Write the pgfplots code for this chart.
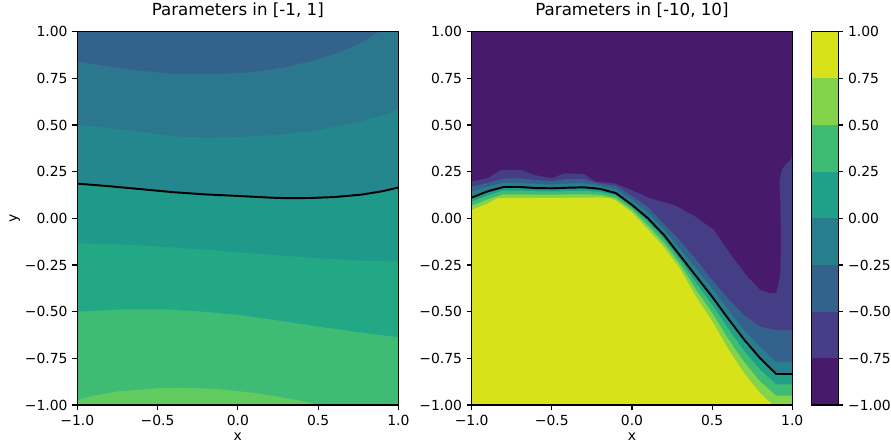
\documentclass[border=0pt]{standalone}
\usepackage{fontspec}
\setmainfont{DejaVu Sans}
\usepackage{pgfplots}
\pgfplotsset{compat=1.18}
% right panel / colorbar levels (viridis, 8 levels)
\definecolor{c1}{HTML}{481A6C}
\definecolor{c2}{HTML}{453D85}
\definecolor{c3}{HTML}{33638D}
\definecolor{c4}{HTML}{277F8E}
\definecolor{c5}{HTML}{1FA088}
\definecolor{c6}{HTML}{3FBC73}
\definecolor{c7}{HTML}{84D44B}
\definecolor{c8}{HTML}{D8E219}
% left panel levels
\definecolor{lA}{HTML}{33628D}
\definecolor{lB}{HTML}{2A778E}
\definecolor{lC}{HTML}{24878E}
\definecolor{lD}{HTML}{1F998A}
\definecolor{lE}{HTML}{22A884}
\definecolor{lF}{HTML}{3FBC73}
\definecolor{lG}{HTML}{62CB5F}
\pgfplotsset{
  panel/.style={
    scale only axis, anchor=south west,
    xmin=-1,xmax=1,ymin=-1,ymax=1,
    axis on top, clip=true,
    tick align=outside, major tick length=3.5pt,
    xtick pos=bottom, ytick pos=left,
    xtick={-1,-0.5,0,0.5,1},
    xticklabels={−1.0,−0.5,0.0,0.5,1.0},
    ytick={-1,-0.75,-0.5,-0.25,0,0.25,0.5,0.75,1},
    yticklabels={−1.00,−0.75,−0.50,−0.25,0.00,0.25,0.50,0.75,1.00},
    tick style={black, line width=0.8pt},
    axis line style={line width=0.8pt},
    every tick label/.append style={font=\fontsize{10}{12}\selectfont},
    title style={font=\fontsize{12}{14}\selectfont, at={(0.5,1)}, anchor=base, yshift=6pt},
    every axis x label/.style={at={(axis description cs:0.5,0)}, anchor=base, yshift=-25.9pt, font=\fontsize{10}{12}\selectfont},
    every axis y label/.style={at={(axis description cs:-0.195,0.5)}, rotate=90, anchor=center, font=\fontsize{10}{12}\selectfont},
  },
  fl/.style={fill=#1, draw=none, mark=none, forget plot},
}
\begin{document}
\begin{tikzpicture}[x=1pt,y=1pt]
\path[use as bounding box] (0,0) rectangle (641.52,319.68);
% ---------------- left panel ----------------
\begin{axis}[panel, at={(55.66pt,28.08pt)}, width=231.12pt, height=268.8pt,
  title={Parameters in [-1, 1]}, xlabel={x}, ylabel={y}]
\addplot[fl=lA] coordinates {(-1,-1) (1,-1) (1,1) (-1,1)};
\addplot[fl=lB] coordinates {(-1,0.841) (-0.8,0.812) (-0.6,0.79) (-0.4,0.773) (-0.2,0.772) (0,0.778) (0.14,0.788) (0.3,0.81) (0.45,0.841) (0.6,0.88) (0.72,0.922) (0.8,0.955) (0.88,1.0) (1,1) (1,-1) (-1,-1)};
\addplot[fl=lC] coordinates {(-1,0.502) (-0.7,0.475) (-0.4,0.44) (-0.2,0.432) (0,0.435) (0.2,0.445) (0.45,0.466) (0.6,0.49) (0.77,0.52) (0.9,0.55) (1,0.582) (1,-1) (-1,-1)};
\addplot[fl=lD] coordinates {(-1,0.186) (-0.8,0.172) (-0.6,0.156) (-0.5,0.148) (-0.4,0.14) (-0.2,0.128) (0,0.12) (0.2,0.111) (0.3,0.108) (0.45,0.109) (0.6,0.114) (0.77,0.127) (0.9,0.145) (1,0.165) (1,-1) (-1,-1)};
\addplot[fl=lE] coordinates {(-1,-0.133) (-0.7,-0.14) (-0.48,-0.152) (-0.25,-0.165) (0,-0.182) (0.25,-0.198) (0.5,-0.214) (0.75,-0.226) (1,-0.232) (1,-1) (-1,-1)};
\addplot[fl=lF] coordinates {(-1,-0.50) (-0.7,-0.488) (-0.48,-0.487) (-0.25,-0.498) (0,-0.517) (0.25,-0.547) (0.5,-0.58) (0.75,-0.61) (1,-0.637) (1,-1) (-1,-1)};
\addplot[fl=lG] coordinates {(-1,-0.975) (-0.9,-0.95) (-0.75,-0.928) (-0.5,-0.91) (-0.38,-0.907) (-0.13,-0.914) (0.1,-0.935) (0.25,-0.955) (0.4,-0.978) (0.5,-1.0) (-1,-1)};
\addplot[black, line width=1.4pt, mark=none] coordinates {(-1,0.186) (-0.8,0.172) (-0.6,0.156) (-0.5,0.148) (-0.4,0.14) (-0.2,0.128) (0,0.12) (0.2,0.111) (0.3,0.108) (0.45,0.109) (0.6,0.114) (0.77,0.127) (0.9,0.145) (1,0.165)};
\end{axis}
% ---------------- right panel ----------------
\begin{axis}[panel, at={(339.62pt,28.08pt)}, width=230.8pt, height=268.8pt,
  title={Parameters in [-10, 10]}, xlabel={x}]
\addplot[fl=c1] coordinates {(-1,-1) (1,-1) (1,1) (-1,1)};
\addplot[fl=c2] coordinates {(-1,0.197) (-0.9,0.215) (-0.82,0.259) (-0.69,0.259) (-0.61,0.232) (-0.5,0.215) (-0.42,0.241) (-0.3,0.237) (-0.23,0.197) (-0.11,0.188) (0,0.15) (0.11,0.108) (0.26,0.072) (0.38,0.018) (0.51,-0.062) (0.61,-0.187) (0.72,-0.312) (0.8,-0.383) (0.85,-0.398) (0.9,-0.401) (0.915,-0.35) (0.925,-0.294) (0.93,-0.12) (0.925,0.1) (0.92,0.2) (0.935,0.26) (0.96,0.29) (0.99,0.313) (1,0.34) (1,-1) (-1,-1)};
\addplot[fl=c3] coordinates {(-1,0.17) (-0.9,0.19) (-0.8,0.213) (-0.7,0.215) (-0.6,0.205) (-0.5,0.2) (-0.4,0.21) (-0.3,0.21) (-0.2,0.185) (-0.1,0.175) (0,0.12) (0.1,0.06) (0.2,-0.03) (0.3,-0.12) (0.4,-0.22) (0.5,-0.33) (0.6,-0.43) (0.7,-0.52) (0.8,-0.58) (0.9,-0.6) (1,-0.6) (1,-1) (-1,-1)};
\addplot[fl=c4] coordinates {(-1,0.143) (-0.9,0.17) (-0.8,0.19) (-0.7,0.19) (-0.6,0.184) (-0.5,0.182) (-0.4,0.186) (-0.3,0.188) (-0.2,0.175) (-0.1,0.155) (0,0.097) (0.1,0.03) (0.2,-0.06) (0.3,-0.165) (0.4,-0.27) (0.5,-0.375) (0.6,-0.49) (0.7,-0.6) (0.8,-0.69) (0.9,-0.77) (1,-0.77) (1,-1) (-1,-1)};
\addplot[fl=c5] coordinates {(-1,0.111) (-0.9,0.145) (-0.8,0.168) (-0.7,0.168) (-0.6,0.162) (-0.5,0.161) (-0.4,0.164) (-0.3,0.166) (-0.2,0.158) (-0.1,0.135) (0,0.072) (0.1,0.0) (0.2,-0.09) (0.3,-0.2) (0.4,-0.31) (0.5,-0.42) (0.6,-0.537) (0.7,-0.65) (0.8,-0.75) (0.9,-0.834) (1,-0.834) (1,-1) (-1,-1)};
\addplot[fl=c6] coordinates {(-1,0.089) (-0.9,0.123) (-0.8,0.149) (-0.7,0.149) (-0.6,0.145) (-0.5,0.144) (-0.4,0.146) (-0.3,0.147) (-0.2,0.142) (-0.1,0.122) (0,0.059) (0.1,-0.02) (0.2,-0.112) (0.3,-0.223) (0.4,-0.347) (0.5,-0.463) (0.6,-0.591) (0.7,-0.71) (0.8,-0.812) (0.9,-0.89) (1,-0.89) (1,-1) (-1,-1)};
\addplot[fl=c7] coordinates {(-1,0.067) (-0.9,0.102) (-0.8,0.129) (-0.7,0.129) (-0.6,0.127) (-0.5,0.127) (-0.4,0.128) (-0.3,0.129) (-0.2,0.126) (-0.1,0.108) (0,0.045) (0.1,-0.04) (0.2,-0.133) (0.3,-0.247) (0.4,-0.383) (0.5,-0.507) (0.6,-0.646) (0.7,-0.77) (0.8,-0.875) (0.9,-0.95) (1,-0.95) (1,-1) (-1,-1)};
\addplot[fl=c8] coordinates {(-1,0.045) (-0.9,0.08) (-0.84,0.108) (-0.8,0.11) (-0.6,0.11) (-0.4,0.11) (-0.2,0.112) (-0.137,0.108) (-0.1,0.095) (0,0.032) (0.1,-0.06) (0.2,-0.155) (0.3,-0.27) (0.4,-0.42) (0.5,-0.55) (0.6,-0.70) (0.7,-0.83) (0.8,-0.937) (0.88,-1.0) (-1,-1)};
\addplot[black, line width=1.4pt, mark=none] coordinates {(-1,0.111) (-0.9,0.145) (-0.8,0.168) (-0.7,0.168) (-0.6,0.162) (-0.5,0.161) (-0.4,0.164) (-0.3,0.166) (-0.2,0.158) (-0.1,0.135) (0,0.072) (0.1,0.0) (0.2,-0.09) (0.3,-0.2) (0.4,-0.31) (0.5,-0.42) (0.6,-0.537) (0.7,-0.65) (0.8,-0.75) (0.9,-0.834) (1,-0.834)};
\end{axis}
% ---------------- colorbar ----------------
\begin{axis}[scale only axis, anchor=south west, at={(584.4pt,28.08pt)}, width=19.2pt, height=268.8pt,
  xmin=0,xmax=1,ymin=-1,ymax=1, axis on top,
  xtick=\empty, ytick pos=right, yticklabel pos=right,
  tick align=outside, major tick length=3.5pt,
  ytick={-1,-0.75,-0.5,-0.25,0,0.25,0.5,0.75,1},
  yticklabels={−1.00,−0.75,−0.50,−0.25,0.00,0.25,0.50,0.75,1.00},
  yticklabel style={anchor=west},
  tick style={black, line width=0.8pt},
  axis line style={line width=0.8pt},
  every tick label/.append style={font=\fontsize{10}{12}\selectfont}]
\addplot[fl=c1] coordinates {(0,-1) (1,-1) (1,-0.75) (0,-0.75)};
\addplot[fl=c2] coordinates {(0,-0.75) (1,-0.75) (1,-0.5) (0,-0.5)};
\addplot[fl=c3] coordinates {(0,-0.5) (1,-0.5) (1,-0.25) (0,-0.25)};
\addplot[fl=c4] coordinates {(0,-0.25) (1,-0.25) (1,0) (0,0)};
\addplot[fl=c5] coordinates {(0,0) (1,0) (1,0.25) (0,0.25)};
\addplot[fl=c6] coordinates {(0,0.25) (1,0.25) (1,0.5) (0,0.5)};
\addplot[fl=c7] coordinates {(0,0.5) (1,0.5) (1,0.75) (0,0.75)};
\addplot[fl=c8] coordinates {(0,0.75) (1,0.75) (1,1) (0,1)};
\end{axis}
\end{tikzpicture}
\end{document}
